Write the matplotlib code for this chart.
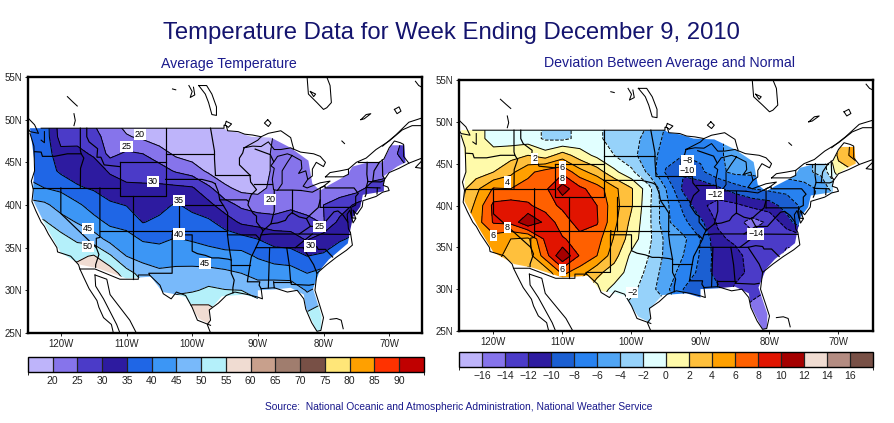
import numpy as np
import matplotlib
matplotlib.use("Agg")
import matplotlib.pyplot as plt
from matplotlib.patches import Polygon
from matplotlib.colors import ListedColormap, BoundaryNorm
from matplotlib.cm import ScalarMappable

plt.rcParams['font.family'] = ['Liberation Sans', 'DejaVu Sans']

W, H = 895, 423

LONS = [-125 + 2.5 * i for i in range(25)]
LATS = [50, 48, 46, 44, 42, 40, 38, 36, 34, 32, 30, 28, 26, 24]

TEMP_COLS = [
    [36, 37, 38, 39, 41, 47, 52, 54, 55, 56, 56, 56, 56, 56],
    [38, 38, 38, 38, 40, 46, 50.5, 53, 54, 55, 56, 56, 56, 56],
    [27, 28, 31.5, 34, 39, 43, 47, 52, 54.5, 56, 56, 56, 56, 56],
    [27, 28.8, 31, 33.2, 35.5, 41, 44.7, 49, 54, 57, 58, 58, 58, 58],
    [24.5, 27, 29.5, 32, 34.5, 37.7, 41.8, 47.5, 55.5, 59, 60, 60, 60, 60],
    [21, 22.5, 23.5, 29.5, 32, 35.9, 38.9, 43.3, 50.7, 58, 59, 59, 59, 59],
    [17.5, 20.5, 25.9, 28, 31, 34.8, 38.3, 41.7, 45, 52, 57, 57, 57, 57],
    [17, 19, 25, 27.5, 31, 33.5, 34.8, 39.5, 43, 48, 52, 54, 54, 54],
    [15, 17, 22.5, 27, 31, 33.5, 36, 39, 42.5, 46, 49, 52, 53, 53],
    [14, 15.5, 19, 24.5, 31, 35.5, 37.8, 40.3, 43.5, 46, 49, 53, 56, 56],
    [14, 15, 17.5, 22.7, 30.5, 33.7, 36.7, 39.5, 43, 46.4, 49.3, 56, 58, 58],
    [14, 14.5, 16, 19, 26, 31.5, 35.9, 38.6, 42, 46.7, 51, 55.7, 58, 58],
    [13, 13, 14.5, 16.5, 21, 27, 33, 37.5, 41.5, 46, 50.2, 53, 55, 55],
    [13, 13, 14, 16, 18.5, 24, 29, 37, 41.5, 45, 50, 52, 54, 54],
    [14, 15, 16, 17, 18.5, 22.5, 28, 35, 39.5, 43, 48, 52, 54, 54],
    [20, 20.5, 21.3, 21, 21.3, 22.5, 27, 33, 37.5, 43, 48, 52, 54, 54],
    [22, 22, 23, 23.5, 23.5, 24, 27.5, 32, 37.5, 42, 49, 52, 54, 54],
    [22, 22, 22, 22, 22.5, 23.5, 26, 29.5, 35, 40, 44.5, 49, 53, 54],
    [22, 22, 22, 22, 22, 25, 24.7, 33, 35.5, 42, 47, 51, 54, 55],
    [22, 22, 22, 22, 22.5, 27, 31.5, 34.5, 38, 42, 47, 51, 54, 55],
    [21.5, 21.5, 21.5, 21.5, 22.5, 31, 33, 36, 39, 42, 47, 51, 54, 55],
    [21, 21, 21, 22, 27, 33, 35, 38, 40, 42, 47, 51, 54, 55],
    [21, 21, 24, 23, 28, 33, 35, 38, 40, 42, 47, 51, 54, 55],
    [26, 26, 26, 24.5, 28, 33, 35, 38, 40, 42, 47, 51, 54, 55],
    [26, 26, 26, 24.5, 28, 33, 35, 38, 40, 42, 47, 51, 54, 55],
]

DEV_COLS = [
    [1, 1, 1, 1, 1, 1.5, 3, 4, 4, 4, 4, 4, 4, 4],
    [1, 1, 1, 1, 3.5, 4.5, 5, 5, 5, 5, 5, 5, 5, 5],
    [-1, -1, 1, 2, 6.2, 8.5, 8.2, 5, 4.5, 4, 4, 4, 4, 4],
    [-1, -1, 1.3, 3.5, 6, 9, 8.5, 4, 3.5, 3, 3, 3, 3, 3],
    [-1, -1, 2, 5.5, 6.8, 8.3, 11.9, 3.5, 3, 1.5, 1, 1, 1, 1],
    [-2.3, -2.3, 1, 6.8, 7.5, 7, 9.5, 8.5, 7, 2.5, 2, 2, 2, 2],
    [-2.5, -2.5, 3, 7.5, 11, 8.5, 6.8, 8.2, 11.9, 6.5, 4, 3, 3, 3],
    [-1.5, -1.5, 1, 4.8, 8.5, 9.2, 9, 7.2, 7.8, 5, 3, 2, 2, 2],
    [-1.5, -1.5, -0.5, 3, 7, 8, 8.2, 6.8, 6, 2.5, 1, 0, 0, 0],
    [-3, -3, -2, 0.5, 4.5, 4.8, 4.5, 3.8, 2.8, 1, -0.5, -1.5, -2, -2],
    [-3, -3.5, -3.5, -1.5, 2.2, 2.2, 1.5, 1, -0.5, -0.8, -1.5, -2.5, -3, -3],
    [-4, -4.5, -5, -4.5, -1.2, -1.5, -1.5, -1.5, -2, -2.5, -3, -3, -3, -3],
    [-6, -6.5, -7, -8.3, -6, -5.5, -5.5, -4.5, -4.5, -5, -5.5, -3.5, -3, -3],
    [-7, -7.5, -8, -9.8, -10.5, -8.5, -7.5, -5.5, -6, -6.7, -8, -8, -8, -8],
    [-7, -7.5, -7.5, -8.5, -11.5, -11.5, -9.5, -8, -8.2, -8.5, -9, -9, -9, -9],
    [-6, -6.5, -6.5, -6.5, -10.5, -12.8, -12.3, -11.5, -11, -11, -9.5, -9.5, -9.5, -9.5],
    [-5, -5, -5, -5.5, -9, -12.5, -13, -12.5, -11.2, -11, -12.5, -13, -13, -13],
    [-4.5, -4.5, -4.5, -5.5, -8, -11.5, -15, -13, -13, -12.8, -13, -14.5, -15, -15],
    [-5, -5, -5, -5, -7.5, -11, -13.5, -13, -12.8, -13, -14, -15, -15, -15],
    [-5, -5, -5, -5, -7.5, -9, -11, -13.5, -14.5, -14, -14, -15, -15, -15],
    [-5, -5, -5, -4.5, -7, -7.5, -8, -13, -14.5, -14, -14, -15, -15, -15],
    [-3, -3, -3, -3.5, -5.5, -5, -8, -13, -14, -14, -14, -15, -15, -15],
    [1, 2, 2.5, 1, -2, -5, -8, -13, -14, -14, -14, -15, -15, -15],
    [5, 5, 5, 2, -2, -5, -8, -13, -14, -14, -14, -15, -15, -15],
    [5, 5, 5, 2, -2, -5, -8, -13, -14, -14, -14, -15, -15, -15],
]

TEMP_LEVELS = [20, 25, 30, 35, 40, 45, 50, 55, 60, 65, 70, 75, 80, 85, 90]
DEV_LEVELS = [-16, -14, -12, -10, -8, -6, -4, -2, 0, 2, 4, 6, 8, 10, 12, 14, 16]
DEV_TICKLABELS = ['\u221216', '\u221214', '\u221212', '\u221210', '\u22128', '\u22126', '\u22124', '\u22122',
                  '0', '2', '4', '6', '8', '10', '12', '14', '16']

TEMP_COLORS = ['#BEB4FA', '#8674EB', '#4B3BC8', '#2D1BA0', '#1F66E6', '#3C96F5', '#78B9FA', '#B4F0FA',
               '#F0DCD2', '#C8A08C', '#A07D6E', '#785046', '#FFE678', '#FFA000', '#FF3200', '#C00000']
DEV_COLORS = ['#BEB4FA', '#8674EB', '#4B3BC8', '#2D1BA0', '#1B5FD2', '#2882F0', '#50A5F5', '#96D2FA',
              '#E1FFFF', '#FFFAAA', '#FFC03C', '#FFA000', '#FF6000', '#E11400', '#A50000', '#F0DCD2',
              '#B48C82', '#785046']

TEMP_LABELS = [('20', -108, 48.3), ('25', -110, 46.9), ('30', -106, 42.8), ('35', -102, 40.5),
               ('20', -88.1, 40.6), ('40', -102, 36.6), ('45', -115.9, 37.2), ('50', -115.9, 35.1),
               ('45', -98, 33.1), ('25', -80.6, 37.5), ('30', -82, 35.2)]
DEV_LABELS = [('6', -110, 44.6), ('8', -110, 43.2), ('4', -118, 42.8), ('2', -114, 45.6),
              ('\u22128', -91.9, 45.4), ('\u221210', -91.9, 44.2), ('\u221212', -87.9, 41.3),
              ('\u221214', -82, 36.6), ('8', -118, 37.4), ('6', -120, 36.4), ('6', -110, 32.3),
              ('\u22122', -99.9, 29.6)]

US_MASK = [(-124.7, 49), (-95.2, 49), (-94.6, 48.7), (-93, 48.5), (-91, 48), (-88, 47.9), (-85, 46.7),
           (-82.3, 45.2), (-81.7, 42.5), (-80.5, 41.7), (-79, 42.4), (-76.4, 43.5), (-75.6, 44.5),
           (-73.2, 45), (-71, 45), (-69.7, 47), (-67.7, 47), (-67.5, 45), (-68.8, 44.5), (-70.8, 43.4),
           (-70.8, 41.6), (-74, 41.2), (-74.4, 39.8), (-75.5, 38.6), (-76, 36.8), (-76.3, 35.5),
           (-79.2, 33.6), (-80.5, 32.4), (-81.6, 30.2), (-80.3, 27), (-80.4, 25.3), (-81, 25.2),
           (-81.8, 26.5), (-82.7, 28), (-83, 29.5), (-85, 30.3), (-87.5, 30.1), (-90, 30), (-90, 29),
           (-92, 29.5), (-95.5, 29.3), (-97.4, 27.6), (-97.3, 26), (-99, 26.7), (-101, 29.2),
           (-103, 29.6), (-104.5, 29.8), (-106.3, 31.6), (-110, 31.4), (-114.5, 32.6), (-117, 33),
           (-120, 34.4), (-122.2, 37.4), (-124.2, 40.5), (-124.2, 42), (-124, 45)]

COASTS = [
    [(-124.7, 48.4), (-124.1, 46.9), (-124, 44), (-124.5, 42.8), (-124.2, 41.8), (-124.4, 40.4), (-123.8, 39.3),
     (-123, 38), (-122.5, 37.5), (-121.9, 36.6), (-120.6, 35), (-120.5, 34.5), (-118.5, 34), (-117.3, 33),
     (-117.1, 32.5), (-116.5, 31.5), (-115.7, 30.2), (-114.5, 28.8), (-114.2, 28), (-113.5, 26.8), (-112.3, 26), (-112, 25)],
    [(-114.8, 31.8), (-114.7, 30.5), (-113.5, 29), (-112.5, 27.5), (-111.5, 26), (-111, 25)],
    [(-114.8, 31.8), (-113, 31.3), (-112.5, 29.5), (-111, 28), (-109.5, 26.5), (-108.5, 25)],
    [(-97.2, 25), (-97.7, 26), (-97.2, 26.5), (-97.4, 27.7), (-96, 28.5), (-94.8, 29.4), (-93.5, 29.8), (-91.5, 29.5),
     (-90, 29.2), (-89.3, 29), (-89.5, 30.2), (-87.5, 30.3), (-85.5, 29.8), (-84, 30), (-83, 29), (-82.7, 27.8),
     (-81.8, 26.2), (-81, 25.2), (-80.4, 25.3), (-80, 26.8), (-80.6, 28.3), (-81.3, 30), (-81, 32), (-79.5, 33),
     (-78, 33.9), (-76.5, 34.7), (-75.6, 35.3), (-75.9, 36.8), (-76.2, 37.2), (-76.4, 38.9), (-76, 39.4), (-75.7, 38.5),
     (-75.5, 37.9), (-75.1, 38.4), (-75.5, 39.4), (-74.9, 38.9), (-74.1, 39.8), (-74, 40.5), (-72, 41), (-71, 41.5),
     (-70, 41.7), (-70.2, 42.1), (-70.9, 42.3), (-70.7, 43), (-70, 43.8), (-68.5, 44.3), (-67, 44.9), (-65, 45.5)],
    [(-123, 49), (-95.15, 49), (-95.15, 49.35), (-94.8, 49.3), (-94.6, 48.7), (-93, 48.6), (-92, 48.3), (-90.8, 48.2), (-89.5, 48)],
    [(-117.1, 32.5), (-114.8, 32.5), (-111, 31.3), (-108.2, 31.3), (-108.2, 31.8), (-106.5, 31.8), (-104.9, 30.6),
     (-104.4, 29.6), (-103.2, 29), (-102.4, 29.8), (-101, 29.4), (-100, 28), (-99.2, 26.5), (-97.2, 25.9)],
    [(-92.1, 46.7), (-90, 47.6), (-89.5, 48), (-88.4, 48.4), (-86.5, 48.7), (-85, 47.9), (-84.7, 47), (-84.5, 46.5),
     (-85, 46.7), (-86.5, 46.5), (-87.5, 46.5), (-88.4, 47.4), (-89.5, 46.85), (-90.8, 46.9), (-92.1, 46.7)],
    [(-84.8, 45.8), (-85.5, 46), (-87, 45.7), (-87.6, 45), (-88, 44.6), (-87.5, 44.3), (-87.8, 43), (-87.6, 41.8),
     (-87, 41.7), (-86.3, 42.5), (-86.3, 44), (-85.5, 45), (-84.8, 45.8)],
    [(-84.8, 45.8), (-83.4, 45.2), (-83.3, 44.3), (-83.8, 43.7), (-82.7, 44), (-82.4, 43), (-81.7, 43.4), (-81.7, 44.2),
     (-81.1, 45), (-80, 44.5), (-79.7, 45), (-80.5, 45.7), (-81.5, 46), (-83.5, 46.2), (-84.4, 46.5)],
    [(-83.4, 41.7), (-81.7, 41.5), (-80, 42.2), (-79, 42.8), (-80.5, 42.6), (-82.5, 42), (-83.1, 42.2), (-82.4, 43)],
    [(-79.7, 43.3), (-79, 43.3), (-77, 43.3), (-76.2, 43.6), (-76.2, 44.2), (-77.5, 44), (-79, 43.8), (-79.7, 43.3)],
    [(-76.2, 44.2), (-75, 45), (-73.5, 45.5), (-72, 46.5), (-70, 47.5), (-68, 48.8), (-66.5, 49.3), (-65, 49.3)],
    [(-71.5, 45), (-70.8, 45.4), (-70.3, 46.2), (-70, 46.7), (-69.2, 47.5), (-68.3, 47.3), (-67.8, 47.1), (-67.8, 45.7), (-67, 44.9)],
    [(-71, 46.9), (-69, 48.2), (-67, 49.7), (-65, 50.2)],
    [(-65, 44.3), (-66, 44.4), (-65, 45.2)],
    [(-82.5, 55), (-82.3, 53), (-81, 52), (-80, 51.2), (-79.5, 51.4), (-78.8, 52), (-79, 54), (-79.5, 55)],
    [(-82, 53.3), (-81.2, 53), (-81.5, 52.7), (-82, 53.3)],
    [(-99, 54), (-98, 53), (-97.5, 52), (-97, 50.6), (-96.3, 50.5), (-96.3, 51.5), (-97, 53), (-97.8, 54), (-99, 54)],
    [(-100.5, 54), (-100, 53.3), (-100.3, 52.6), (-99.6, 52.9), (-99.8, 53.8)],
    [(-88.5, 50), (-88, 49.6), (-88.4, 49.2), (-89, 49.6), (-88.5, 50)],
    [(-94.8, 49.8), (-94, 49.5), (-94.5, 49.1), (-95, 49.4), (-94.8, 49.8)],
    [(-119, 52.7), (-118.2, 52.1), (-117.5, 51.6)], [(-118, 50.7), (-117.8, 49.9), (-118, 49.3)],
    [(-74.3, 50), (-73.5, 50.6), (-72.8, 50.7), (-73.8, 50.1), (-74.3, 50)],
    [(-69.2, 51.2), (-68.5, 51.5), (-68.2, 51), (-68.8, 50.7), (-69.2, 51.2)],
    [(-77.2, 47.5), (-76.8, 47.2)], [(-103, 53.6), (-102.5, 53.5)],
    [(-125, 50.2), (-124, 49.4), (-123.4, 48.4), (-124.7, 48.6), (-125, 49)],
    [(-122.5, 48.6), (-122.5, 47.3), (-123, 47.6)],
    [(-79, 26.6), (-78, 26.7), (-77.3, 26.5), (-77, 25.5)],
    [(-66, 54.5), (-65.5, 54), (-65, 53.8)],
]

STATES = [
    [(-124, 46.25), (-123, 46.2), (-122.8, 45.7), (-121, 45.7), (-119, 46), (-116.9, 46)],
    [(-117.03, 49), (-117.03, 46.4), (-116.9, 46), (-116.5, 45.5), (-117, 44.3), (-117.03, 42)],
    [(-124.2, 42), (-111.05, 42)],
    [(-120, 42), (-120, 39), (-114.6, 35), (-114.2, 34.2), (-114.7, 33), (-114.7, 32.7)],
    [(-114.05, 42), (-114.05, 36.2), (-114.6, 36.1), (-114.6, 35)],
    [(-116.05, 49), (-116.05, 48), (-115.7, 47.4), (-114.4, 46.6), (-114.5, 45.6), (-113.9, 45.6), (-113.4, 44.7), (-111.05, 44.5)],
    [(-111.05, 45), (-104.05, 45), (-104.05, 41), (-111.05, 41), (-111.05, 45)],
    [(-109.05, 41), (-109.05, 31.3)],
    [(-114.05, 37), (-94.62, 37)],
    [(-103, 37), (-103, 36.5), (-100, 36.5), (-100, 34.6), (-99.2, 34.3), (-98, 34.1), (-97, 33.8), (-96, 33.8), (-94.5, 33.65),
     (-94.05, 33.55), (-94.05, 32), (-93.6, 31.2), (-93.8, 30.3), (-93.8, 29.7)],
    [(-103.05, 36.5), (-103.05, 32), (-106.6, 32), (-106.5, 31.8)],
    [(-102.05, 41), (-102.05, 37)], [(-102.05, 40), (-95.3, 40)],
    [(-104.05, 49), (-104.05, 45)], [(-104.05, 45.95), (-96.6, 45.95)],
    [(-104.05, 43), (-98.5, 43), (-97, 42.7), (-96.5, 42.5)],
    [(-97.2, 49), (-96.6, 46.3), (-96.6, 45.4), (-96.45, 43.5)],
    [(-96.5, 43.5), (-91.2, 43.5)],
    [(-96.5, 42.5), (-96, 41.5), (-95.8, 40.6), (-95.3, 40), (-94.6, 39.1), (-94.62, 36.5), (-94.45, 35.4), (-94.05, 33.55)],
    [(-95.8, 40.6), (-91.7, 40.6), (-91.4, 40.4)],
    [(-92.1, 46.7), (-92.3, 46.1), (-92.8, 45.5), (-92.8, 44.7), (-91.2, 43.5), (-91.1, 42.7), (-90.2, 41.8), (-91, 41.2),
     (-91.4, 40.4), (-91.5, 40), (-90.7, 39), (-90.2, 38.7), (-90.2, 38), (-89.2, 37), (-89.5, 36.5), (-89.7, 36), (-90.3, 35),
     (-91, 33.9), (-91.2, 33), (-91.6, 31), (-89.7, 31), (-89.8, 30.6), (-89.5, 30.2)],
    [(-90.6, 42.5), (-87.8, 42.5)], [(-87.5, 41.7), (-87.5, 39.3), (-88, 37.8)],
    [(-89.2, 37), (-88, 37.8), (-87, 37.9), (-85.8, 38.2), (-85.4, 38.7), (-84.8, 39.1), (-83.7, 38.6), (-82.6, 38.4),
     (-81.8, 39), (-80.8, 39.7), (-80.5, 40.6)],
    [(-84.8, 39.1), (-84.8, 41.7)], [(-87, 41.75), (-84.8, 41.75), (-83.4, 41.7)],
    [(-80.5, 39.72), (-80.5, 42), (-79.76, 42.25), (-79.76, 42), (-75.35, 42), (-74.7, 41.35), (-75.1, 41), (-75.1, 40), (-75.6, 39.8)],
    [(-80.5, 39.72), (-75.8, 39.72), (-75.7, 38.5), (-75.1, 38.45)],
    [(-82, 37.5), (-80.3, 37.5), (-79.2, 38.5), (-78.4, 39.2), (-77.8, 39.3), (-77, 38.8), (-76.3, 38)],
    [(-83.7, 36.6), (-82, 37.5), (-82.6, 38.4)],
    [(-89.5, 36.5), (-88, 36.6), (-83.7, 36.6), (-75.9, 36.55)],
    [(-94.62, 36.5), (-90.3, 36.5), (-89.7, 36)],
    [(-90.3, 35), (-84.3, 35), (-83.1, 35), (-82, 35.2), (-81, 35.1), (-80.8, 34.8), (-79.7, 34.8), (-78.6, 33.9)],
    [(-84.3, 35), (-83, 35.8), (-81.7, 36.6)], [(-83.1, 35), (-81.5, 33), (-81, 32)],
    [(-85.6, 35), (-85.2, 32.9), (-85, 31), (-84.9, 30.7), (-82.2, 30.6), (-81.5, 30.7)],
    [(-87.6, 31), (-85, 31)], [(-88.2, 35), (-88.4, 30.3)], [(-87.6, 31), (-87.5, 30.3)], [(-94.05, 33), (-91.2, 33)],
    [(-73.35, 45), (-73.4, 43.6), (-73.25, 42.75), (-73.5, 42.05), (-73.5, 41.3), (-73.65, 41)],
    [(-73.25, 42.75), (-71.3, 42.7), (-70.8, 42.85)], [(-73.5, 42.05), (-71.4, 42)], [(-71.8, 42), (-71.85, 41.3)],
    [(-71.5, 45), (-72.3, 44), (-72.5, 42.75)], [(-71.05, 45.3), (-70.98, 43.4), (-70.7, 43.1)],
    [(-74.7, 45), (-71.5, 45)], [(-90.4, 46.55), (-88.1, 45.9), (-87.6, 45.1)],
]

XTICKS = [-120, -110, -100, -90, -80, -70]
XTICKLABELS = ['120W', '110W', '100W', '90W', '80W', '70W']
YTICKS = [25, 30, 35, 40, 45, 50, 55]
YTICKLABELS = ['25N', '30N', '35N', '40N', '45N', '50N', '55N']

NAVY = '#14146E'


def px_axes(fig, x0, y0, x1, y1):
    return fig.add_axes([x0 / W, 1 - y1 / H, (x1 - x0) / W, (y1 - y0) / H])


def draw_map(ax, cols, levels, colors, labels):
    lon2, lat2 = np.meshgrid(LONS, LATS)
    z = np.array(cols, dtype=float).T
    bounds = [-100] + levels + [200]
    cf = ax.contourf(lon2, lat2, z, levels=bounds, colors=colors)
    cl = ax.contour(lon2, lat2, z, levels=levels, colors='k', linewidths=0.7)
    clip = Polygon(US_MASK, closed=True, transform=ax.transData, fc='none', ec='none')
    ax.add_patch(clip)
    cf.set_clip_path(clip)
    cl.set_clip_path(clip)
    for pl in COASTS:
        a = np.array(pl)
        ax.plot(a[:, 0], a[:, 1], color='k', lw=0.75, solid_joinstyle='round')
    for pl in STATES:
        a = np.array(pl)
        ax.plot(a[:, 0], a[:, 1], color='k', lw=0.85)
    for s, lo, la in labels:
        ax.text(lo, la, s, fontsize=6.5, ha='center', va='center', color='k', zorder=6,
                bbox=dict(fc='white', ec='none', pad=0.8))
    ax.set_xlim(-125, -65)
    ax.set_ylim(25, 55)
    ax.set_xticks(XTICKS)
    ax.set_xticklabels(XTICKLABELS)
    ax.set_yticks(YTICKS)
    ax.set_yticklabels(YTICKLABELS)
    ax.tick_params(length=2, width=0.7, labelsize=7, pad=2, colors='#222222')
    for sp in ax.spines.values():
        sp.set_linewidth(1.7)
        sp.set_zorder(10)


def draw_cbar(fig, box, levels, colors, ticklabels):
    cax = px_axes(fig, *box)
    step = levels[1] - levels[0]
    bounds = [levels[0] - step] + levels + [levels[-1] + step]
    sm = ScalarMappable(norm=BoundaryNorm(bounds, len(colors)), cmap=ListedColormap(colors))
    cb = fig.colorbar(sm, cax=cax, orientation='horizontal', ticks=levels, drawedges=True, spacing='uniform')
    cb.dividers.set_color('#222222')
    cb.dividers.set_linewidth(0.9)
    cb.outline.set_linewidth(1.0)
    cb.set_ticklabels(ticklabels)
    cax.tick_params(length=0, labelsize=7.5, pad=3, colors='#222222')


fig = plt.figure(figsize=(W / 100, H / 100), dpi=100, facecolor='white')

fig.text(451 / W, 1 - 33 / H, 'Temperature Data for Week Ending December 9, 2010', fontsize=17.2,
         color=NAVY, ha='center', va='center')
fig.text(229 / W, 1 - 64 / H, 'Average Temperature', fontsize=10.2, color='#1A1A8C', ha='center', va='center')
fig.text(669 / W, 1 - 63 / H, 'Deviation Between Average and Normal', fontsize=10.2, color='#1A1A8C', ha='center', va='center')
fig.text(459 / W, 1 - 407 / H, 'Source:  National Oceanic and Atmospheric Administration, National Weather Service',
         fontsize=7.4, color='#1A1A8C', ha='center', va='center')

ax1 = px_axes(fig, 28, 77, 422, 333)
draw_map(ax1, TEMP_COLS, TEMP_LEVELS, TEMP_COLORS, TEMP_LABELS)
ax2 = px_axes(fig, 459, 80, 873, 331)
draw_map(ax2, DEV_COLS, DEV_LEVELS, DEV_COLORS, DEV_LABELS)

draw_cbar(fig, (28, 357, 424, 372), TEMP_LEVELS, TEMP_COLORS, [str(v) for v in TEMP_LEVELS])
draw_cbar(fig, (459, 352, 873, 367), DEV_LEVELS, DEV_COLORS, DEV_TICKLABELS)

fig.savefig('out.png', dpi=100)
